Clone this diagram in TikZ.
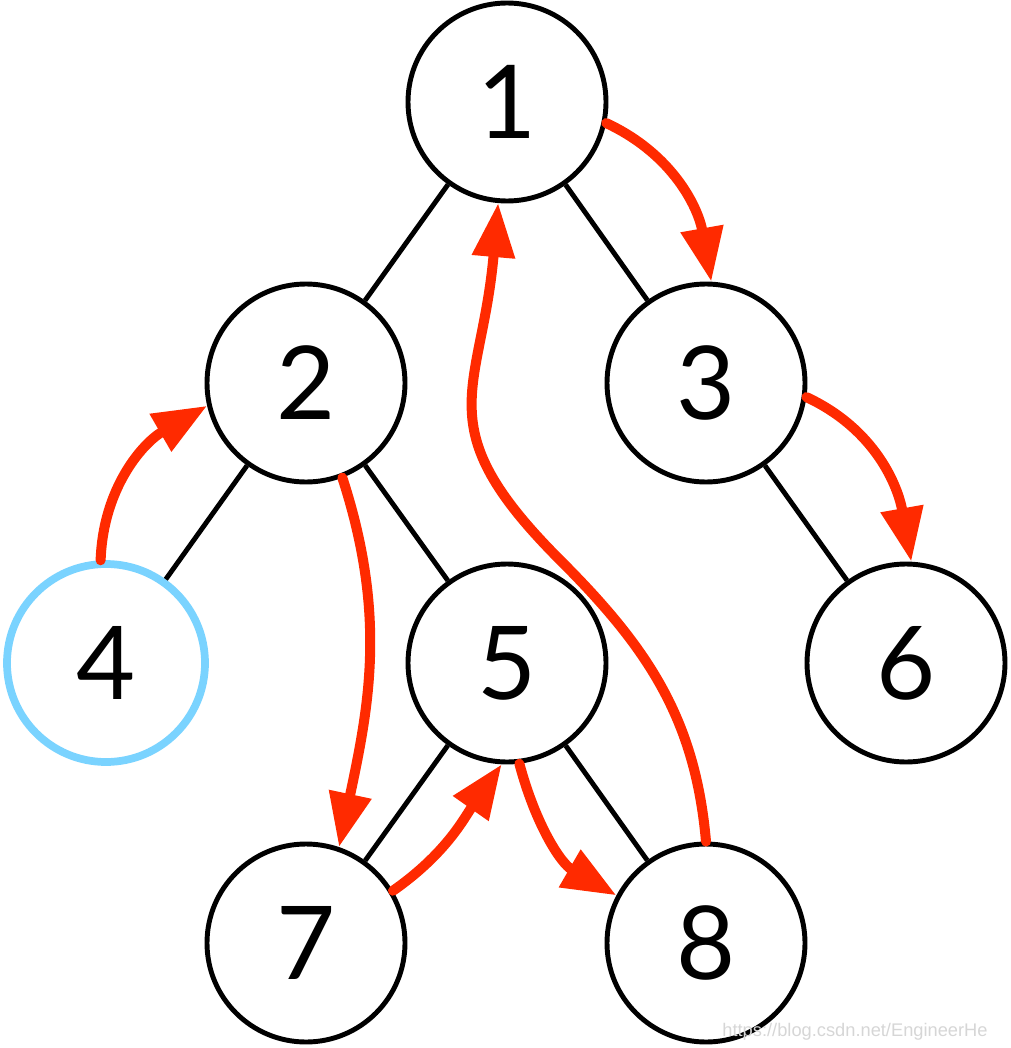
\documentclass[tikz,border=0pt]{standalone}
\usepackage{fontspec}
\setmainfont{Lato}
\newfontfamily\wmfont{Liberation Sans}
\usetikzlibrary{arrows.meta}
\definecolor{ink}{HTML}{000000}
\definecolor{sRed}{HTML}{FF2A00}
\definecolor{sSky}{HTML}{7AD3FF}
\colorlet{walkred}{sRed}
\colorlet{start}{sSky}
\tikzset{
  wm/.style={font=\wmfont\fontsize{5.2}{6}\selectfont, text=black!16},
}

\begin{document}
\begin{tikzpicture}[
  vert/.style={circle, draw=ink, line width=1.4pt, minimum size=1.98cm, inner sep=0pt, font=\fontsize{29}{29}\selectfont},
  root/.style={vert, draw=start, line width=2.2pt},
  tree/.style={ink, line width=1.4pt},
  walk/.style={-{Triangle[length=5.4mm,width=4.1mm]}, walkred, line width=2.85pt, line cap=round}]
\useasboundingbox (0,0) rectangle (10.1,-10.48);
\node[vert] (n1) at (5.07,-1.02) {1};
\node[vert] (n2) at (3.06,-3.83) {2}; \node[vert] (n3) at (7.06,-3.83) {3};
\node[root] (n4) at (1.06,-6.63) {4}; \node[vert] (n5) at (5.07,-6.63) {5}; \node[vert] (n6) at (9.06,-6.63) {6};
\node[vert] (n7) at (3.06,-9.43) {7}; \node[vert] (n8) at (7.06,-9.43) {8};
\draw[tree] (n1) -- (n2); \draw[tree] (n1) -- (n3); \draw[tree] (n2) -- (n4); \draw[tree] (n2) -- (n5);
\draw[tree] (n3) -- (n6); \draw[tree] (n5) -- (n7); \draw[tree] (n5) -- (n8);
% traversal
\coordinate (bend) at (5.6,-5.6);
\draw[walk] (n4.93) to[out=88,in=-150] (n2.193);
\draw[walk] (n2.-69) to[out=-72,in=78] (n7.71);
\draw[walk] (n7.31) to[out=35,in=-125] (n5.-93);
\draw[walk] (n5.-83) to[out=-75,in=150] (n8.152);
\draw[walk] (n8.90) to[out=95,in=-45] (bend) to[out=135,in=-95,looseness=1.35] (n1.-95);
\draw[walk] (n1.-12) to[out=-25,in=100] (n3.87);
\draw[walk] (n3.-8) to[out=-25,in=100] (n6.87);
\node[wm, anchor=east] (url) at (10.0,-10.32) {https://blog.csdn.net/EngineerHe};
\end{tikzpicture}
\end{document}
